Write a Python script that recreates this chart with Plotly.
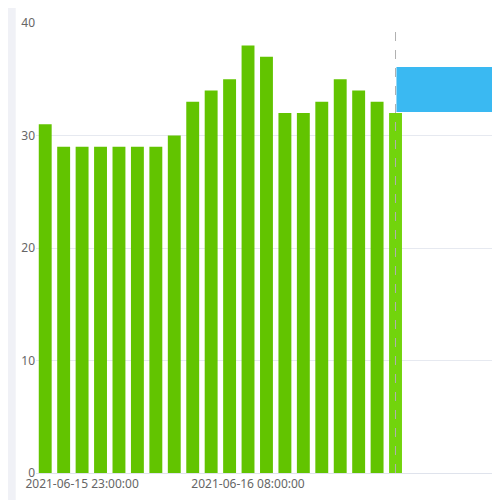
import plotly.graph_objects as go

hours = ["2021-06-15 21:00:00","2021-06-15 22:00:00","2021-06-15 23:00:00"] + \
        [f"2021-06-16 {h:02d}:00:00" for h in range(0,17)]
values = [31,29,29,29,29,29,29,30,33,34,35,38,37,32,32,33,35,34,33,32]
tick_idx = [2, 11]

x = list(range(len(values)))
colors = ["#62c400"]*(len(values)-1) + ["#72d40c"]

fig = go.Figure(go.Bar(x=x, y=values, marker_color=colors, marker_line_width=0, width=0.7))
fig.add_shape(type="line", x0=19, x1=19, y0=0, y1=40, line=dict(color="#b0b0b0", width=1, dash="dash"))
fig.add_shape(type="rect", x0=19.05, x1=30, y0=32.1, y1=36.1, fillcolor="#3ab9f2", line_width=0)
fig.add_trace(go.Scatter(x=[19.45], y=[34.1], mode="text", text=[hours[-1]], textposition="middle right",
                         textfont=dict(color="white", size=14), hoverinfo="skip", cliponaxis=True))
fig.add_shape(type="rect", xref="paper", yref="paper", x0=-0.08, x1=-0.043, y0=-1, y1=2,
              fillcolor="#f0f1f6", line_width=0, layer="below")
fig.update_layout(
    width=500, height=500, margin=dict(l=28, r=0, t=15, b=35),
    paper_bgcolor="white", plot_bgcolor="white", showlegend=False,
    font=dict(family="Noto Sans", color="#666", size=12),
    xaxis=dict(range=[-0.5, 25.1], tickvals=tick_idx, ticktext=[hours[i] for i in tick_idx],
               showgrid=False, showline=True, linecolor="#dfe3ec", ticks="", zeroline=False),
    yaxis=dict(range=[0, 40], dtick=10, gridcolor="#e6e9f0", zeroline=False, ticks="",
               showline=False),
    bargap=0.3,
)
fig.write_html("out.html")
